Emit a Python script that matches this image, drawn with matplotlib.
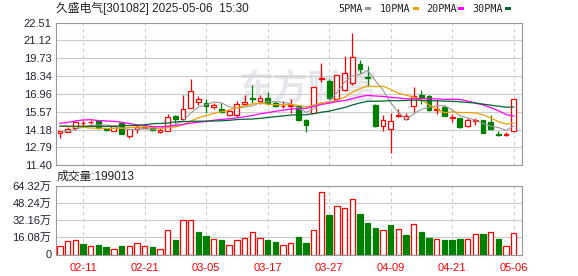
import numpy as np
import matplotlib
matplotlib.use('Agg')
from matplotlib import pyplot as plt
from matplotlib.patches import Rectangle

plt.rcParams['font.family'] = ['Liberation Sans', 'Noto Sans CJK SC']

# daily K-line of 久盛电气
dates = ['02-06', '02-07', '02-10', '02-11', '02-12', '02-13', '02-14', '02-17', '02-18', '02-19',
         '02-20', '02-21', '02-24', '02-25', '02-26', '02-27', '02-28', '03-03', '03-04', '03-05',
         '03-06', '03-07', '03-10', '03-11', '03-12', '03-13', '03-14', '03-17', '03-18', '03-19',
         '03-20', '03-21', '03-24', '03-25', '03-26', '03-27', '03-28', '03-31', '04-01', '04-02',
         '04-03', '04-07', '04-08', '04-09', '04-10', '04-11', '04-14', '04-15', '04-16', '04-17',
         '04-18', '04-21', '04-22', '04-23', '04-24', '04-25', '04-28', '04-29', '04-30', '05-06']

opens = [13.94, 13.96, 14.30, 14.70, 14.80, 14.82, 14.25, 14.07, 14.70, 13.65,
         14.20, 14.30, 14.38, 14.02, 14.10, 15.21, 15.03, 15.88, 16.32, 16.27,
         15.95, 15.75, 15.34, 15.34, 16.20, 16.60, 16.37, 16.63, 16.24, 15.98,
         15.98, 16.05, 14.95, 15.47, 18.08, 17.93, 16.55, 17.28, 17.83, 19.25,
         18.25, 16.10, 14.48, 14.22, 15.20, 14.97, 16.01, 16.84, 16.78, 15.72,
         15.93, 15.05, 15.08, 14.48, 14.88, 14.90, 14.76, 13.86, 13.78, 14.07]
highs = [14.06, 14.38, 14.76, 14.90, 14.95, 14.85, 14.30, 14.50, 14.72, 14.25,
         14.64, 14.45, 14.45, 14.27, 15.36, 15.30, 16.84, 18.08, 16.76, 16.53,
         16.27, 16.27, 15.67, 16.37, 16.89, 17.67, 16.84, 17.10, 16.40, 16.37,
         16.53, 16.10, 15.00, 17.47, 19.38, 18.10, 18.45, 19.89, 21.71, 19.58,
         19.12, 16.20, 15.29, 15.50, 15.81, 15.50, 17.49, 17.23, 16.85, 16.45,
         16.00, 15.42, 15.10, 15.08, 15.11, 14.95, 15.34, 14.10, 14.00, 16.58]
lows = [13.55, 13.96, 14.12, 14.48, 14.60, 14.25, 14.05, 14.05, 13.80, 13.52,
        13.91, 14.28, 14.10, 13.89, 14.08, 14.72, 14.95, 15.85, 16.12, 15.50,
        15.81, 15.48, 15.23, 15.15, 16.06, 16.27, 16.16, 16.06, 15.95, 15.85,
        15.50, 14.85, 13.99, 15.45, 17.87, 16.58, 16.50, 17.20, 17.67, 18.60,
        17.54, 14.40, 14.04, 12.36, 15.15, 14.92, 15.54, 16.19, 15.60, 15.42,
        15.20, 14.76, 14.30, 14.40, 14.56, 13.88, 14.15, 13.70, 13.71, 14.00]
closes = [14.04, 14.20, 14.74, 14.70, 14.80, 14.27, 14.12, 14.48, 13.83, 14.20,
          14.38, 14.38, 14.15, 14.17, 15.15, 14.99, 15.81, 17.20, 16.53, 15.98,
          16.06, 15.52, 15.60, 16.19, 16.30, 16.55, 16.61, 16.27, 16.00, 16.05,
          16.08, 14.92, 14.56, 17.47, 18.20, 16.63, 18.39, 18.60, 19.85, 18.88,
          18.18, 14.43, 14.95, 14.84, 15.28, 15.23, 16.76, 16.63, 15.73, 15.80,
          15.27, 15.12, 14.35, 14.90, 14.93, 13.94, 14.20, 13.72, 13.82, 16.58]

# volume in 万 (10k shares)
volumes = [7.8, 12.4, 13.4, 9.9, 7.8, 8.7, 6.8, 5.6, 7.8, 7.8,
           10.6, 7.8, 6.8, 5.6, 23.4, 13.4, 32.0, 32.7, 20.8, 17.4,
           15.0, 13.4, 8.7, 14.0, 15.9, 21.1, 15.5, 13.4, 11.5, 8.7,
           11.2, 16.0, 10.8, 23.4, 58.47, 36.7, 45.1, 43.9, 52.3, 38.3,
           29.9, 24.6, 23.4, 27.4, 24.3, 18.0, 29.0, 20.8, 15.9, 15.0,
           13.4, 13.4, 15.0, 15.0, 19.6, 19.6, 21.5, 14.3, 8.4, 19.9]

ma5 = [13.96, 14.05, 14.20, 14.38, 14.50, 14.54, 14.53, 14.47, 14.30, 14.18,
       14.20, 14.25, 14.19, 14.26, 14.45, 14.57, 14.85, 15.46, 15.94, 16.10,
       16.32, 16.26, 15.94, 15.87, 15.93, 16.03, 16.25, 16.38, 16.35, 16.30,
       16.20, 15.86, 15.52, 15.82, 16.25, 16.36, 17.05, 17.86, 18.33, 18.47,
       18.78, 17.99, 17.26, 16.26, 15.54, 14.95, 15.41, 15.75, 15.93, 16.03,
       16.04, 15.71, 15.25, 15.09, 14.91, 14.65, 14.46, 14.34, 14.12, 14.45]
ma10 = [14.43, 14.42, 14.40, 14.35, 14.30, 14.28, 14.27, 14.27, 14.28, 14.34,
        14.37, 14.39, 14.33, 14.28, 14.31, 14.39, 14.55, 14.83, 15.10, 15.27,
        15.44, 15.56, 15.70, 15.90, 16.02, 16.17, 16.25, 16.16, 16.11, 16.12,
        16.12, 16.06, 15.95, 16.08, 16.27, 16.28, 16.46, 16.69, 17.08, 17.36,
        17.57, 17.52, 17.56, 17.30, 17.00, 16.86, 16.70, 16.50, 16.09, 15.78,
        15.49, 15.56, 15.50, 15.51, 15.47, 15.34, 15.09, 14.80, 14.61, 14.68]
ma20 = [14.66, 14.74, 14.85, 14.93, 14.95, 14.88, 14.85, 14.82, 14.75, 14.65,
        14.55, 14.50, 14.42, 14.40, 14.42, 14.50, 14.58, 14.68, 14.75, 14.81,
        14.91, 14.97, 15.02, 15.09, 15.17, 15.28, 15.40, 15.49, 15.60, 15.69,
        15.78, 15.81, 15.83, 15.99, 16.14, 16.23, 16.36, 16.43, 16.59, 16.74,
        16.84, 16.79, 16.76, 16.69, 16.64, 16.57, 16.58, 16.60, 16.58, 16.57,
        16.53, 16.54, 16.53, 16.40, 16.24, 16.10, 15.89, 15.65, 15.35, 15.23]
ma30 = [14.45, 14.45, 14.44, 14.44, 14.43, 14.43, 14.43, 14.43, 14.48, 14.50,
        14.50, 14.55, 14.64, 14.66, 14.68, 14.78, 14.80, 14.82, 14.83, 14.84,
        14.85, 14.86, 14.90, 14.96, 14.98, 15.00, 15.05, 15.12, 15.18, 15.24,
        15.31, 15.33, 15.33, 15.42, 15.53, 15.61, 15.76, 15.89, 16.09, 16.25,
        16.38, 16.38, 16.40, 16.43, 16.43, 16.44, 16.47, 16.45, 16.42, 16.42,
        16.39, 16.38, 16.34, 16.29, 16.25, 16.16, 16.08, 16.00, 15.92, 15.94]

price_ticks = [11.40, 12.79, 14.18, 15.57, 16.96, 18.34, 19.73, 21.12, 22.51]
vol_ticks = [0, 16.08, 32.16, 48.24, 64.32]
last_volume = '199013'

RED = '#ff0000'
GREEN = '#008000'
W, H = 578, 276


def fx(px):
    return px / W


def fy(py):
    return 1 - py / H


def style_axis(a):
    for s in a.spines.values():
        s.set_color('#999999')
        s.set_linewidth(0.8)
    a.grid(axis='y', color='#cccccc', lw=0.8, ls='-')
    a.grid(axis='x', color='#cccccc', lw=0.8, ls=(0, (3, 3)))
    a.set_axisbelow(True)
    a.tick_params(axis='y', length=0, pad=3, labelsize=8, labelcolor='#222233')
    a.tick_params(axis='x', length=0)


def main():
    fig = plt.figure(figsize=(W / 100, H / 100), dpi=100)
    ax = fig.add_axes([fx(55.7), fy(165.3), fx(466.3), 142.8 / H])
    axv = fig.add_axes([fx(55.7), fy(254.5), fx(466.3), 68.5 / H])

    x = np.arange(len(dates))
    o = np.array(opens)
    c = np.array(closes)
    up = c >= o
    edge = np.where(up, RED, GREEN)
    face = np.where(up, 'white', GREEN)

    # candles
    ax.vlines(x, lows, highs, colors=edge, lw=0.9, zorder=3)
    ax.bar(x, np.abs(c - o), bottom=np.minimum(o, c), width=0.62,
           color=face, edgecolor=edge, lw=0.9, zorder=4)

    # moving averages
    ax.plot(x, ma5, color='#999999', lw=0.8, zorder=5)
    ax.plot(x, ma10, color='#f0a000', lw=0.9, zorder=5)
    ax.plot(x, ma20, color='#ff00ff', lw=0.9, zorder=5)
    ax.plot(x, ma30, color='#006633', lw=0.9, zorder=5)

    tick_idx = list(range(3, len(dates), 8))

    ax.set_xlim(-0.56, 60.08)
    ax.set_ylim(price_ticks[0], price_ticks[-1])
    ax.set_yticks(price_ticks)
    ax.set_yticklabels(['%.2f' % v for v in price_ticks])
    ax.set_xticks(tick_idx)
    ax.tick_params(axis='x', labelbottom=False)
    style_axis(ax)

    # watermark
    ax.text(fx(239), fy(89), '东方财富', transform=fig.transFigure, fontsize=25,
            fontweight='bold', color='#e6e7ec', va='center', ha='left', zorder=0.4)

    # volume, coloured by change against previous close
    prev = np.concatenate([[c[0]], c[:-1]])
    vup = c >= prev
    axv.bar(x, volumes, width=0.7, color=np.where(vup, 'white', GREEN),
            edgecolor=np.where(vup, RED, GREEN), lw=0.9, zorder=3)
    axv.set_xlim(-0.56, 60.08)
    axv.set_ylim(0, vol_ticks[-1])
    axv.set_yticks(vol_ticks)
    axv.set_yticklabels(['0'] + ['%.2f万' % v for v in vol_ticks[1:]])
    axv.set_xticks(tick_idx)
    axv.set_xticklabels([dates[i] for i in tick_idx])
    style_axis(axv)
    axv.tick_params(axis='x', pad=6, labelsize=8, labelcolor=RED)

    # header texts
    fig.text(fx(56), fy(8.5), '久盛电气[301082] 2025-05-06  15:30',
             fontsize=8.5, va='center', ha='left', color='#222222')
    fig.text(fx(57), fy(177), '成交量:' + last_volume,
             fontsize=8.5, va='center', ha='left', color='#222222')

    legend = [('5PMA', '#999999', 338, 365),
              ('10PMA', '#f0a000', 380, 413),
              ('20PMA', '#ff00ff', 426, 458),
              ('30PMA', '#006633', 472, 505)]
    for label, col, tx, mx in legend:
        fig.text(fx(tx), fy(9), label, fontsize=7.3, va='center', ha='left',
                 color='#222222', family='DejaVu Sans Mono')
        fig.add_artist(Rectangle((fx(mx), fy(10.3)), fx(6), 3 / H,
                                 transform=fig.transFigure, color=col, lw=0))

    fig.savefig('out.png', dpi=100)


if __name__ == "__main__":
    main()
